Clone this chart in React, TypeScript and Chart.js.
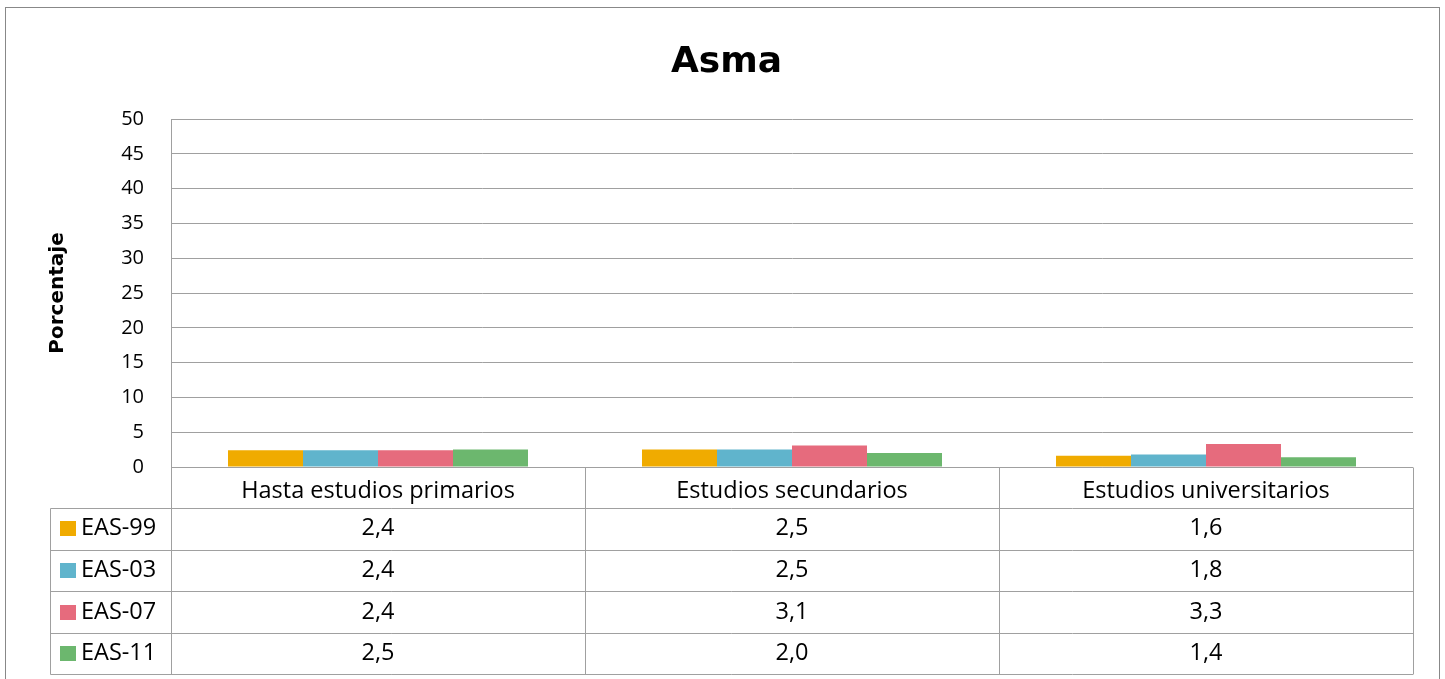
import React, { useEffect, useRef } from "react";
import { Chart, registerables } from "chart.js";

Chart.register(...registerables);

const titleText = "Asma";
const yAxisTitle = "Porcentaje";
const categories = ["Hasta estudios primarios", "Estudios secundarios", "Estudios universitarios"];
const seriesNames = ["EAS-99", "EAS-03", "EAS-07", "EAS-11"];
const eas99 = [2.4, 2.5, 1.6];
const eas03 = [2.4, 2.5, 1.8];
const eas07 = [2.4, 3.1, 3.3];
const eas11 = [2.5, 2.0, 1.4];
const seriesValues = [eas99, eas03, eas07, eas11];
const seriesColors = ["#F0AB00", "#60B4CC", "#E66B7D", "#6CB76E"];
const yMin = 0;
const yMax = 50;
const yStep = 5;

const FONT = "'Open Sans', Lato, sans-serif";
const BOLD_FONT = "'DejaVu Sans', 'Open Sans', sans-serif";
const GRID = "#A0A0A0";
const TABLE_LINE = "#A0A0A0";

const fmt = (v: number) => v.toFixed(1).replace(".", ",");

const tablePlugin = {
  id: "dataTable",
  beforeDraw(chart: any) {
    const ctx = chart.ctx;
    ctx.save();
    ctx.fillStyle = "#ffffff";
    ctx.fillRect(0, 0, chart.width, chart.height);
    ctx.strokeStyle = "#888888";
    ctx.lineWidth = 1;
    ctx.strokeRect(5.5, 7.5, 1434, 720);
    ctx.restore();
  },
  afterDraw(chart: any) {
    const ctx = chart.ctx;
    const area = chart.chartArea;
    const xs = chart.scales.x;
    const n = categories.length;
    const catW = (area.right - area.left) / n;
    const headerH = 41;
    const rowH = 41.6;
    const labelLeft = 50;
    const top = area.bottom;
    const rowsTop = top + headerH;
    const bottom = rowsTop + rowH * seriesNames.length;
    const px = (v: number) => Math.round(v) + 0.5;

    ctx.save();
    ctx.strokeStyle = TABLE_LINE;
    ctx.lineWidth = 1;
    ctx.beginPath();
    ctx.moveTo(area.left, px(top));
    ctx.lineTo(area.right, px(top));
    for (let i = 0; i <= n; i++) {
      const x = px(area.left + catW * i);
      ctx.moveTo(x, px(top));
      ctx.lineTo(x, px(bottom));
    }
    for (let r = 0; r <= seriesNames.length; r++) {
      const y = px(rowsTop + rowH * r);
      ctx.moveTo(labelLeft + 0.5, y);
      ctx.lineTo(area.right, y);
    }
    ctx.moveTo(labelLeft + 0.5, px(rowsTop));
    ctx.lineTo(labelLeft + 0.5, px(bottom));
    ctx.stroke();

    ctx.font = `23.5px ${FONT}`;
    ctx.textBaseline = "middle";
    for (let r = 0; r < seriesNames.length; r++) {
      const cy = rowsTop + rowH * r + rowH / 2;
      ctx.fillStyle = seriesColors[r];
      ctx.fillRect(60, Math.round(cy - 7.5), 16, 15);
      ctx.fillStyle = "#000000";
      ctx.textAlign = "left";
      ctx.fillText(seriesNames[r], 81, cy);
      ctx.textAlign = "center";
      for (let i = 0; i < n; i++) {
        const cx = xs.getPixelForTick(i);
        ctx.fillText(fmt(seriesValues[r][i]), cx, cy);
      }
    }
    ctx.restore();
  },
};

export default function App() {
  const canvasRef = useRef<HTMLCanvasElement | null>(null);

  useEffect(() => {
    const canvas = canvasRef.current;
    if (!canvas) return;
    const yTicks: number[] = [];
    for (let v = yMin; v <= yMax; v += yStep) yTicks.push(v);

    const chart = new Chart(canvas, {
      type: "bar",
      data: {
        labels: categories,
        datasets: seriesNames.map((name, i) => ({
          label: name,
          data: seriesValues[i],
          backgroundColor: seriesColors[i],
          borderWidth: 0,
          barPercentage: 1,
          categoryPercentage: 300 / 414,
        })),
      },
      plugins: [tablePlugin],
      options: {
        responsive: false,
        animation: false,
        devicePixelRatio: 1,
        layout: { padding: { left: 40, right: 32, top: 0, bottom: 0 } },
        plugins: {
          legend: { display: false },
          tooltip: { enabled: false },
          title: {
            display: true,
            text: titleText,
            color: "#000000",
            font: { family: BOLD_FONT, size: 36, weight: "bold" },
            padding: { top: 41.5, bottom: 34.3 },
          },
        },
        scales: {
          x: {
            grid: { display: false },
            border: { display: false },
            ticks: {
              color: "#000000",
              font: { family: FONT, size: 23.5 },
              padding: 2,
              maxRotation: 0,
              autoSkip: false,
            },
            afterFit(scale: any) {
              scale.height = 212;
            },
          },
          y: {
            min: yMin,
            max: yMax,
            afterBuildTicks(scale: any) {
              scale.ticks = yTicks.map((v) => ({ value: v }));
            },
            grid: { color: GRID, drawTicks: false, lineWidth: 1 },
            border: { display: true, color: GRID },
            ticks: {
              color: "#000000",
              font: { family: FONT, size: 20 },
              padding: 27,
            },
            title: {
              display: true,
              text: yAxisTitle,
              color: "#000000",
              font: { family: BOLD_FONT, size: 20, weight: "bold" },
              padding: { top: 6, bottom: 0 },
            },
            afterFit(scale: any) {
              scale.width = 131;
            },
          },
        },
      },
    });
    return () => chart.destroy();
  }, []);

  return (
    <div style={{ position: "fixed", left: 0, top: 0, width: 1445, height: 679, background: "#fff" }}>
      <canvas ref={canvasRef} width={1445} height={679} style={{ display: "block" }} />
    </div>
  );
}
